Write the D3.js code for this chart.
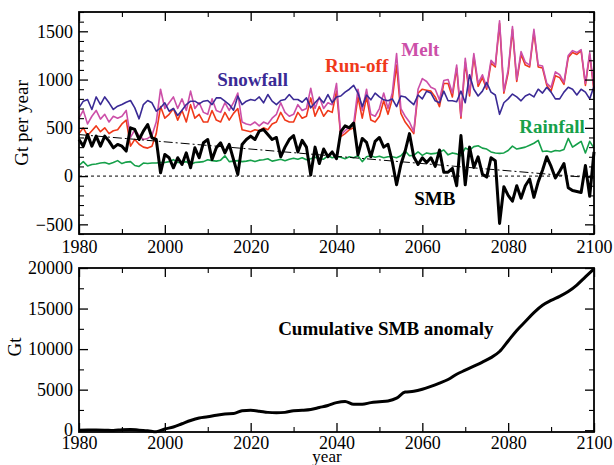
<!DOCTYPE html>
<html>
<head>
<meta charset="utf-8">
<script src="https://cdn.jsdelivr.net/npm/d3@7"></script>
<style>
  body { margin: 0; background: #fff; }
  svg text { font-family: "Liberation Serif", "Times New Roman", serif; }
</style>
</head>
<body>
<div id="chart"></div>
<script>
// annual values, 1980..2100 (Gt per year)
const years = d3.range(1980, 2101);

const snowfall = [
  707, 776, 793, 690, 820, 741, 820, 759, 690, 724,
  741, 765, 783, 707, 593, 741, 783, 759, 672, 707,
  759, 672, 700, 628, 683, 741, 776, 776, 748, 776,
  783, 741, 810, 810, 776, 741, 683, 828, 741, 776,
  793, 783, 820, 759, 845, 776, 741, 783, 793, 845,
  793, 793, 765, 810, 707, 759, 810, 759, 845, 760,
  820, 830, 870, 900, 940, 860, 720, 840, 790, 860,
  820, 790, 780, 800, 720, 830, 820, 780, 740, 840,
  800, 880, 860, 780, 760, 880, 780, 780, 770, 880,
  760, 1050, 900, 830, 880, 970, 870, 840, 640, 760,
  800, 850, 820, 780, 830, 850, 820, 900, 860, 920,
  870, 800, 800, 870, 920, 900, 840, 900, 870, 800,
  930
];

const melt = [
  600, 680, 540, 620, 680, 590, 640, 560, 620, 600,
  620, 680, 400, 480, 420, 380, 390, 420, 560, 900,
  700, 760, 820, 700, 800, 680, 880, 700, 760, 660,
  640, 800, 680, 660, 760, 680, 760, 860, 560, 540,
  530, 560, 520, 560, 540, 600, 640, 760, 660, 620,
  640, 740, 680, 700, 910, 700, 820, 700, 760, 740,
  960, 430, 470, 510, 540, 900, 680, 900, 640, 620,
  700, 860, 700, 860, 1270, 700, 620, 560, 460, 900,
  1010, 980, 920, 900, 790, 990, 1000, 860, 1150, 620,
  1220, 860, 1270, 960, 1050, 920, 1200, 1150, 1610, 880,
  1100, 1550, 1000, 1290, 1180, 1150, 1520, 1150, 1140, 960,
  920, 1080, 1050, 970, 1250, 1300, 1280, 1310, 960, 1280,
  900
];

const runoff = [
  440, 500, 420, 470, 520, 460, 500, 440, 470, 480,
  540, 580, 310, 380, 330, 300, 290, 310, 440, 720,
  600, 640, 700, 580, 680, 560, 740, 600, 640, 560,
  560, 680, 580, 560, 660, 580, 650, 700, 480, 470,
  460, 480, 470, 500, 480, 540, 560, 660, 580, 560,
  560, 660, 600, 620, 810, 620, 720, 620, 680, 660,
  880, 410, 440, 480, 500, 820, 600, 820, 580, 560,
  620, 780, 640, 800, 1150, 650, 560, 500, 440, 860,
  900, 890, 880, 820, 720, 960, 960, 820, 1120, 600,
  1180, 830, 1240, 930, 1020, 900, 1170, 1130, 1580, 860,
  1070, 1520, 980, 1260, 1150, 1130, 1490, 1130, 1120, 940,
  880, 1040, 1020, 950, 1230, 1280, 1260, 1300, 940, 1260,
  880
];

const rainfall = [
  110, 150, 105, 120, 125, 135, 140, 125, 140, 160,
  130, 145, 150, 110, 100, 135, 130, 135, 135, 140,
  140, 150, 170, 140, 140, 150, 120, 140, 145, 150,
  170, 160, 155, 165, 210, 150, 155, 160, 150, 155,
  165, 150, 165, 170, 180, 155, 165, 175, 160, 175,
  185, 175, 190, 170, 180, 195, 180, 175, 210, 190,
  200, 195, 180, 200, 190, 210, 150, 200, 210, 195,
  205, 190, 200, 200, 190, 210, 260, 210, 215, 250,
  215, 240, 230, 235, 250, 270, 220, 240, 230, 210,
  290, 270, 305, 315, 290, 280, 250, 240, 235, 240,
  265, 310, 280, 290, 300, 320, 340, 370, 255, 260,
  250, 265, 260, 275, 390, 300, 330, 360, 240, 360,
  290
];

const smb = [
  379, 310, 431, 310, 414, 310, 414, 362, 293, 328,
  310, 259, 500, 483, 379, 466, 534, 397, 379, 34,
  224, 190, 86, 190, 121, 241, 86, 293, 190, 345,
  379, 172, 293, 345, 241, 328, 172, 17, 328, 379,
  414, 379, 466, 483, 431, 379, 400, 200, 300, 380,
  420, 250, 370, 300, 10, 300, 130, 280, 200, 250,
  180, 460, 520, 500, 550, 220, 390, 350, 200, 360,
  400, 300, 330, 150, -90, 120, 260, 440, 200, 120,
  190, 140, 190, 100, 270, 40, 40, 80, -100, 420,
  -90, 300, 90, 200, 20, -10, 190, 160, -490, -110,
  -200, -260, -100, -230, -100, -30, -220, -60, 60, 200,
  100, -20, 50, 130, -120, -150, -160, -170, 110, -210,
  250
];

// linear SMB trend (end points)
const trendYears = [1980, 2100];
const trendSMB = [430, -20];

// cumulative SMB anomaly (Gt), every second year
const cumYears = d3.range(1980, 2101, 2);
const cumSMB = [
  0, 20, 20, 0, -40, 60, 100, 0, -60, -180,
  150, 400, 800, 1200, 1500, 1650, 1850, 2000, 2050, 2400,
  2450, 2350, 2200, 2150, 2200, 2400, 2450, 2550, 2800, 3050,
  3400, 3550, 3200, 3200, 3400, 3500, 3600, 3950, 4700, 4800,
  5050, 5400, 5800, 6250, 6900, 7400, 7900, 8400, 8950, 9700,
  11000, 12300, 13400, 14500, 15400, 16000, 16500, 17100, 17900, 18900,
  19900
];

const xMajor = [1980, 2000, 2020, 2040, 2060, 2080, 2100];
const xMinor = [1990, 2010, 2030, 2050, 2070, 2090];
const yTopMajor = [-500, 0, 500, 1000, 1500];
const yBotMajor = [0, 5000, 10000, 15000, 20000];

const width = 614, height = 465;
const svg = d3.select("#chart").append("svg")
  .attr("width", width).attr("height", height);

const x = d3.scaleLinear().domain([1980, 2100]).range([79, 594]);
const yTop = d3.scaleLinear().domain([-600, 1700]).range([234, 12]);
const yBot = d3.scaleLinear().domain([-220, 20000]).range([432, 268]);

const yTopMinor = d3.range(-600, 1701, 100).filter(v => v % 500 !== 0);
const yBotMinor = [2500, 7500, 12500, 17500];

function frame(y, yMaj, yMin, xPad) {
  const g = svg.append("g");
  const [y0, y1] = y.range();
  const [x0, x1] = x.range();

  const axes = [
    [d3.axisBottom(x), `translate(0,${y0})`, xMajor, xMinor, true, xPad],
    [d3.axisTop(x), `translate(0,${y1})`, xMajor, xMinor, false, 6],
    [d3.axisLeft(y), `translate(${x0},0)`, yMaj, yMin, true, 6],
    [d3.axisRight(y), `translate(${x1},0)`, yMaj, yMin, false, 6]
  ];
  axes.forEach(([ax, tr, maj, min, labels, pad]) => {
    const a = g.append("g").attr("transform", tr)
      .call(ax.tickValues(maj).tickSize(-9).tickSizeOuter(0).tickPadding(pad)
        .tickFormat(labels ? d3.format("d") : ""));
    a.select(".domain").remove();
    a.selectAll("line").attr("stroke", "#000").attr("stroke-width", 1.3);
    a.selectAll("text").attr("font-size", 18).attr("fill", "#000");
    const b = g.append("g").attr("transform", tr)
      .call(ax.tickValues(min).tickSize(-5).tickFormat(""));
    b.select(".domain").remove();
    b.selectAll("line").attr("stroke", "#000").attr("stroke-width", 1.1);
  });

  g.append("rect")
    .attr("x", x0).attr("y", y1)
    .attr("width", x1 - x0).attr("height", y0 - y1)
    .attr("fill", "none").attr("stroke", "#000").attr("stroke-width", 1.8);
  return g;
}

// ---- top panel
const lineTop = (vals) => d3.line()
  .x((d, i) => x(years[i]))
  .y(d => yTop(d))(vals);

const plotTop = svg.append("g");

plotTop.append("line")
  .attr("x1", x(1980)).attr("x2", x(2100))
  .attr("y1", yTop(0)).attr("y2", yTop(0))
  .attr("stroke", "#000").attr("stroke-width", 1)
  .attr("stroke-dasharray", "3,3");

const series = [
  { vals: rainfall, color: "#16a04a", w: 1.6 },
  { vals: runoff, color: "#f0391a", w: 1.6 },
  { vals: melt, color: "#cc4fa8", w: 1.6 },
  { vals: snowfall, color: "#3a2a95", w: 1.6 }
];
series.forEach(s => {
  plotTop.append("path")
    .attr("d", lineTop(s.vals))
    .attr("fill", "none")
    .attr("stroke", s.color)
    .attr("stroke-width", s.w)
    .attr("stroke-linejoin", "round");
});

plotTop.append("path")
  .attr("d", d3.line().x((d, i) => x(trendYears[i])).y(d => yTop(d))(trendSMB))
  .attr("fill", "none").attr("stroke", "#000").attr("stroke-width", 1)
  .attr("stroke-dasharray", "9,3,2,3");

plotTop.append("path")
  .attr("d", lineTop(smb))
  .attr("fill", "none").attr("stroke", "#000").attr("stroke-width", 3)
  .attr("stroke-linejoin", "round");

const labels = [
  { text: "Snowfall", yr: 2012.2, v: 930, color: "#3a2a95" },
  { text: "Run-off", yr: 2037.3, v: 1078, color: "#f0391a" },
  { text: "Melt", yr: 2055.1, v: 1243, color: "#cc4fa8" },
  { text: "Rainfall", yr: 2082.6, v: 446, color: "#16a04a" },
  { text: "SMB", yr: 2058.1, v: -300, color: "#000" }
];
labels.forEach(l => {
  svg.append("text")
    .attr("x", x(l.yr)).attr("y", yTop(l.v))
    .attr("font-size", 19).attr("font-weight", "bold")
    .attr("fill", l.color).text(l.text);
});

frame(yTop, yTopMajor, yTopMinor, 6);

svg.append("text")
  .attr("transform", "translate(28,123) rotate(-90)")
  .attr("text-anchor", "middle").attr("font-size", 19)
  .text("Gt per year");

// ---- bottom panel
svg.append("path")
  .attr("d", d3.line().x((d, i) => x(cumYears[i])).y(d => yBot(d)).curve(d3.curveMonotoneX)(cumSMB))
  .attr("fill", "none").attr("stroke", "#000").attr("stroke-width", 3)
  .attr("stroke-linejoin", "round");

svg.append("text")
  .attr("x", x(2026.4)).attr("y", yBot(11740))
  .attr("font-size", 19).attr("font-weight", "bold")
  .text("Cumulative SMB anomaly");

frame(yBot, yBotMajor, yBotMinor, 4);

svg.append("text")
  .attr("transform", "translate(21,347) rotate(-90)")
  .attr("text-anchor", "middle").attr("font-size", 19)
  .text("Gt");

svg.append("text")
  .attr("x", 327).attr("y", 462)
  .attr("text-anchor", "middle").attr("font-size", 17)
  .text("year");
</script>
</body>
</html>
